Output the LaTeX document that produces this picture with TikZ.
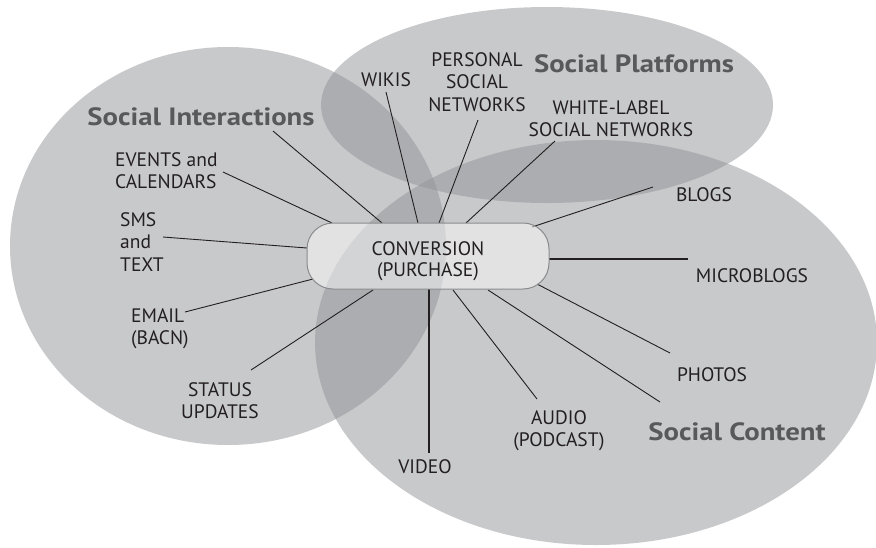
\documentclass[tikz,border=0pt]{standalone}
\usepackage{fontspec}
\setmainfont{PT Sans}
\definecolor{ellc}{RGB}{143,145,149}
\definecolor{txt}{RGB}{35,31,32}
\definecolor{ttl}{RGB}{88,89,91}
\definecolor{boxline}{RGB}{138,139,141}
\newcommand{\widettl}[1]{\scalebox{1.15}[1]{#1}}
\begin{document}
\begin{tikzpicture}[x=1pt,y=-1pt,
  every node/.style={inner sep=0pt, text=txt},
  lbl/.style={font=\fontsize{19.5}{22.5}\selectfont, align=center},
  lbll/.style={font=\fontsize{19.5}{22.5}\selectfont, align=left},
  ttlnode/.style={font=\fontsize{25}{28}\selectfont\bfseries, text=ttl, anchor=base},
  ellfill/.style={fill=ellc, fill opacity=0.49},
  conn/.style={draw=txt, line width=0.9pt},
  thickconn/.style={draw=txt, line width=2pt},
  convbox/.style={draw=boxline, line width=1pt, fill=white, fill opacity=0.47,
    rounded corners=26pt, minimum width=242pt, minimum height=66pt}]
\useasboundingbox (0,0) rectangle (876,547);
% ellipses
\fill[ellfill] (228,246) ellipse [x radius=218pt, y radius=199pt];
\fill[ellfill] (547,105) ellipse [x radius=226pt, y radius=98pt];
\fill[ellfill] (596,342.5) ellipse [x radius=281pt, y radius=202.5pt];
% labels
\node[ttlnode] (si) at (201,125) {\widettl{Social Interactions}};
\node[ttlnode] (sp) at (634,72) {\widettl{Social Platforms}};
\node[ttlnode] (sc) at (737,440) {\widettl{Social Content}};
\node[lbll, anchor=north west] (events) at (115,152) {EVENTS and\\CALENDARS};
\node[lbll, anchor=north west] (sms) at (120,212) {SMS\\and\\TEXT};
\node[lbll, anchor=north west] (email) at (131,308) {EMAIL\\(BACN)};
\node[lbl, anchor=north] (status) at (220,382) {STATUS\\UPDATES};
\node[lbl, anchor=north] (video) at (425,459) {VIDEO};
\node[lbl, anchor=north] (audio) at (559,410) {AUDIO\\(PODCAST)};
\node[lbl, anchor=north] (photos) at (712,367) {PHOTOS};
\node[lbl, anchor=north] (micro) at (752,268) {MICROBLOGS};
\node[lbl, anchor=north] (blogs) at (704,187) {BLOGS};
\node[lbl, anchor=north] (white) at (611,100) {WHITE-LABEL\\SOCIAL NETWORKS};
\node[lbl, anchor=north] (personal) at (477,52) {PERSONAL\\SOCIAL\\NETWORKS};
\node[lbl, anchor=north] (wikis) at (386,72) {WIKIS};
% connector end points
\coordinate (qSI) at (273,131); \coordinate (pSI) at (382,223);
\coordinate (qEV) at (223,172); \coordinate (pEV) at (332,223);
\coordinate (qSM) at (163,237); \coordinate (pSM) at (307,248);
\coordinate (qEM) at (185,312); \coordinate (pEM) at (313,279);
\coordinate (qST) at (251,370); \coordinate (pST) at (373,290);
\coordinate (qVI) at (429,453); \coordinate (pVI) at (429,289);
\coordinate (qAU) at (537,399); \coordinate (pAU) at (453,290);
\coordinate (qSC) at (660,402); \coordinate (pSC) at (488,290);
\coordinate (qPH) at (670,353); \coordinate (pPH) at (537,284);
\coordinate (qMI) at (688,259); \coordinate (pMI) at (549,259);
\coordinate (qBL) at (653,187); \coordinate (pBL) at (532,227);
\coordinate (qWL) at (555,141); \coordinate (pWL) at (466,223);
\coordinate (qPE) at (478,120); \coordinate (pPE) at (439,223);
\coordinate (qWI) at (386,92);  \coordinate (pWI) at (418,223);
\foreach \n in {SI,EV,SM,EM,ST,AU,SC,PH,BL,WL,PE,WI}{\draw[conn] (q\n) -- (p\n);}
\draw[thickconn] (qVI) -- (pVI);
\draw[thickconn] (qMI) -- (pMI);
% central box
\node[convbox] (box) at (428,256) {};
\node[lbl, anchor=north, font=\fontsize{19.5}{21}\selectfont] (conv) at (428,241) {CONVERSION\\(PURCHASE)};
\end{tikzpicture}
\end{document}
